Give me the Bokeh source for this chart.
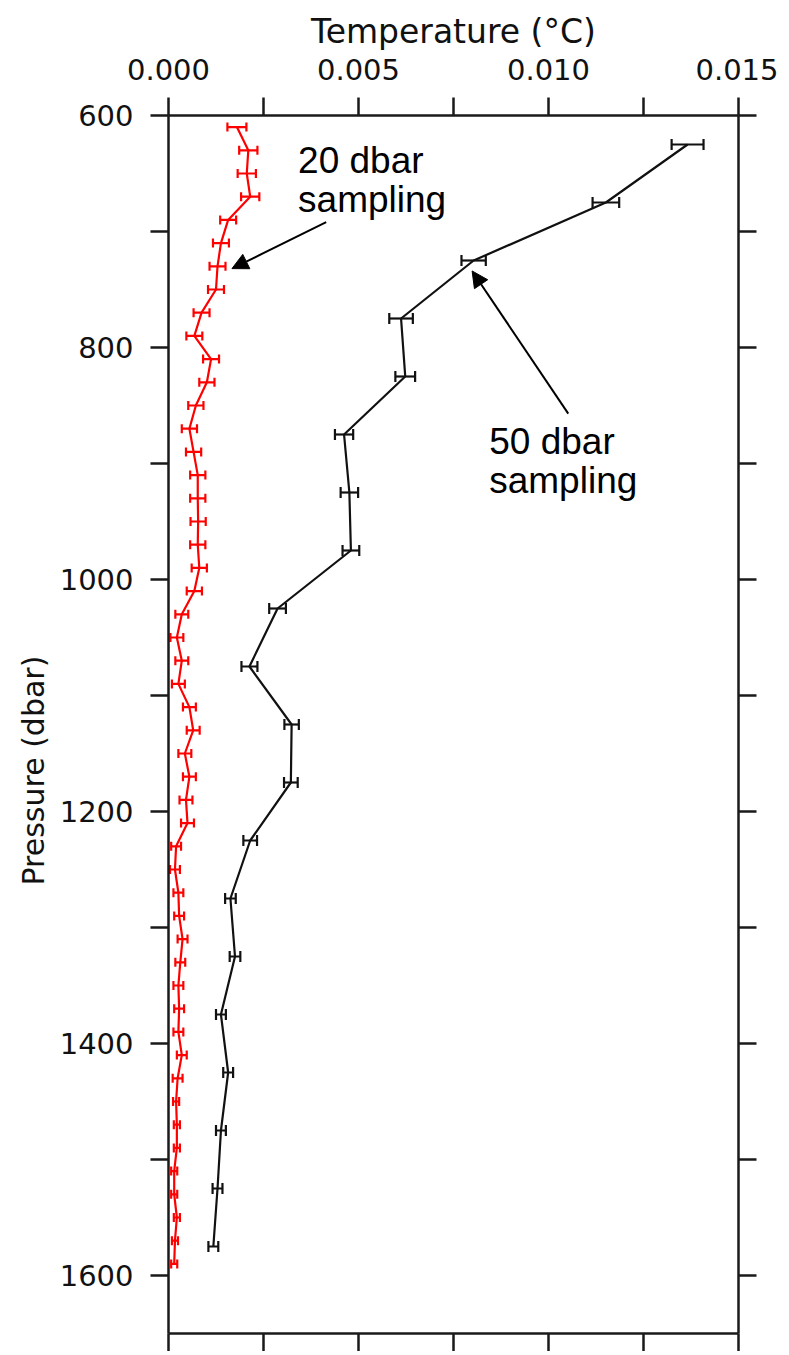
from bokeh.plotting import figure
from bokeh.models import (Range1d, LinearAxis, FixedTicker, Whisker, TeeHead, Title,
                          ColumnDataSource, Arrow, NormalHead, Label, NumeralTickFormatter)
from bokeh.embed import file_html
from bokeh.resources import INLINE

# ---- data ----
p20 = [610, 630, 650, 670, 690, 710, 730, 750, 770, 790, 810, 830, 850, 870, 890,
       910, 930, 950, 970, 990, 1010, 1030, 1050, 1070, 1090, 1110, 1130, 1150, 1170,
       1190, 1210, 1230, 1250, 1270, 1290, 1310, 1330, 1350, 1370, 1390, 1410, 1430,
       1450, 1470, 1490, 1510, 1530, 1550, 1570, 1590]
t20 = [0.00180, 0.00210, 0.00206, 0.00215, 0.00157, 0.00138, 0.00129, 0.00125, 0.00087,
       0.00068, 0.00112, 0.00101, 0.00072, 0.00055, 0.00066, 0.00077, 0.00077, 0.00078,
       0.00077, 0.00081, 0.00068, 0.00035, 0.00022, 0.00035, 0.00026, 0.00055, 0.00065,
       0.00043, 0.00055, 0.00046, 0.00050, 0.00020, 0.00017, 0.00026, 0.00028, 0.00037,
       0.00031, 0.00026, 0.00028, 0.00026, 0.00035, 0.00024, 0.00020, 0.00022, 0.00022,
       0.00015, 0.00015, 0.00022, 0.00017, 0.00015]
e20 = [0.00025, 0.00024, 0.00024, 0.00024,
       0.00021, 0.00021, 0.00021, 0.00021, 0.00021, 0.00021, 0.00021,
       0.00020, 0.00020, 0.00020, 0.00020, 0.00020, 0.00020, 0.00020, 0.00020, 0.00020, 0.00020,
       0.00017, 0.00017, 0.00017, 0.00017, 0.00017, 0.00017, 0.00017, 0.00017, 0.00017, 0.00017,
       0.00013, 0.00013, 0.00013, 0.00013, 0.00013, 0.00013, 0.00013, 0.00013, 0.00013, 0.00013, 0.00013,
       0.00008, 0.00008, 0.00008, 0.00008, 0.00008, 0.00008, 0.00008, 0.00008]

p50 = [625, 675, 725, 775, 825, 875, 925, 975, 1025, 1075, 1125, 1175, 1225, 1275,
       1325, 1375, 1425, 1475, 1525, 1575]
t50 = [0.01366, 0.01151, 0.00803, 0.00612, 0.00623, 0.00462, 0.00476, 0.00480, 0.00287,
       0.00213, 0.00324, 0.00322, 0.00215, 0.00163, 0.00175, 0.00138, 0.00157, 0.00138,
       0.00129, 0.00118]
e50 = [0.00042, 0.00035, 0.00032, 0.00031, 0.00026, 0.00024, 0.00023, 0.00022, 0.00022,
       0.00021, 0.00019, 0.00018, 0.00018, 0.00014, 0.00014, 0.00013, 0.00013, 0.00013,
       0.00013, 0.00013]

x_major = [0.0, 0.005, 0.010, 0.015]
x_minor = [0.0025, 0.0075, 0.0125]
y_major = [600, 800, 1000, 1200, 1400, 1600]
y_minor = [700, 900, 1100, 1300, 1500]

AX = "#1a1a1a"

p = figure(frame_width=570, frame_height=1218,
           x_range=Range1d(0, 0.015), y_range=Range1d(1650, 600),
           output_backend="svg", toolbar_location=None,
           x_axis_location="above",
           min_border_left=168, min_border_top=115, min_border_right=40,
           min_border_bottom=0, background_fill_color="white",
           border_fill_color="white")
p.outline_line_color = None
p.xgrid.visible = False
p.ygrid.visible = False

bottom = LinearAxis()
right = LinearAxis()
p.add_layout(bottom, "below")
p.add_layout(right, "right")


def style(ax, major, minor, show_labels, standoff=0):
    ax.ticker = FixedTicker(ticks=major, minor_ticks=minor)
    ax.axis_line_color = AX
    ax.axis_line_width = 2.5
    ax.major_tick_line_color = AX
    ax.minor_tick_line_color = AX
    ax.major_tick_line_width = 2.5
    ax.minor_tick_line_width = 2.5
    ax.major_tick_in = 0
    ax.minor_tick_in = 0
    ax.major_tick_out = 18
    ax.minor_tick_out = 18
    if show_labels:
        ax.major_label_text_font = "DejaVu Sans"
        ax.major_label_text_font_size = "29px"
        ax.major_label_text_color = "#111111"
        ax.major_label_standoff = standoff
    else:
        ax.major_label_text_font_size = "0px"
        ax.major_label_text_alpha = 0
        ax.major_label_standoff = 0


top = p.xaxis[0]
left = p.yaxis[0]
style(top, x_major, x_minor, True, 18)
style(bottom, x_major, x_minor, False)
style(left, y_major, y_minor, True, 17)
style(right, y_major, y_minor, False)
top.formatter = NumeralTickFormatter(format="0.000")
top.axis_label = "Temperature (\u00b0C)"
top.axis_label_text_font = "DejaVu Sans"
top.axis_label_text_font_style = "normal"
top.axis_label_text_font_size = "33px"
top.axis_label_text_color = "#111111"
top.axis_label_standoff = 5

p.add_layout(Title(text="Pressure (dbar)", align="left", offset=448,
                   text_font="DejaVu Sans", text_font_size="30px",
                   text_font_style="normal", text_color="#111111",
                   standoff=12), "left")

# ---- series ----
s20 = ColumnDataSource(dict(p=p20, t=t20,
                            lo=[a - b for a, b in zip(t20, e20)],
                            hi=[a + b for a, b in zip(t20, e20)]))
s50 = ColumnDataSource(dict(p=p50, t=t50,
                            lo=[a - b for a, b in zip(t50, e50)],
                            hi=[a + b for a, b in zip(t50, e50)]))

p.line("t", "p", source=s20, line_color="#ff0000", line_width=2.2)
p.add_layout(Whisker(base="p", lower="lo", upper="hi", dimension="width", source=s20,
                     line_color="#ff0000", line_width=2.2,
                     lower_head=TeeHead(size=9, line_color="#ff0000", line_width=2.2),
                     upper_head=TeeHead(size=9, line_color="#ff0000", line_width=2.2)))

p.line("t", "p", source=s50, line_color="#111111", line_width=2.2)
p.add_layout(Whisker(base="p", lower="lo", upper="hi", dimension="width", source=s50,
                     line_color="#111111", line_width=2.2,
                     lower_head=TeeHead(size=11, line_color="#111111", line_width=2.2),
                     upper_head=TeeHead(size=11, line_color="#111111", line_width=2.2)))

# ---- annotations ----
FONT = "Liberation Sans"
for txt, x, y in [("20 dbar", 0.00341, 639), ("sampling", 0.00341, 672),
                  ("50 dbar", 0.00844, 881), ("sampling", 0.00844, 915)]:
    p.add_layout(Label(x=x, y=y, text=txt, text_font=FONT, text_font_size="37px",
                       text_color="black", text_align="left", text_baseline="alphabetic"))

p.add_layout(Arrow(x_start=0.00415, y_start=692, x_end=0.00167, y_end=732,
                   line_width=2, line_color="black",
                   end=NormalHead(size=16, fill_color="black", line_color="black")))
p.add_layout(Arrow(x_start=0.01052, y_start=857, x_end=0.00799, y_end=734,
                   line_width=2, line_color="black",
                   end=NormalHead(size=16, fill_color="black", line_color="black")))

open("out.html", "w").write(file_html(p, INLINE))
